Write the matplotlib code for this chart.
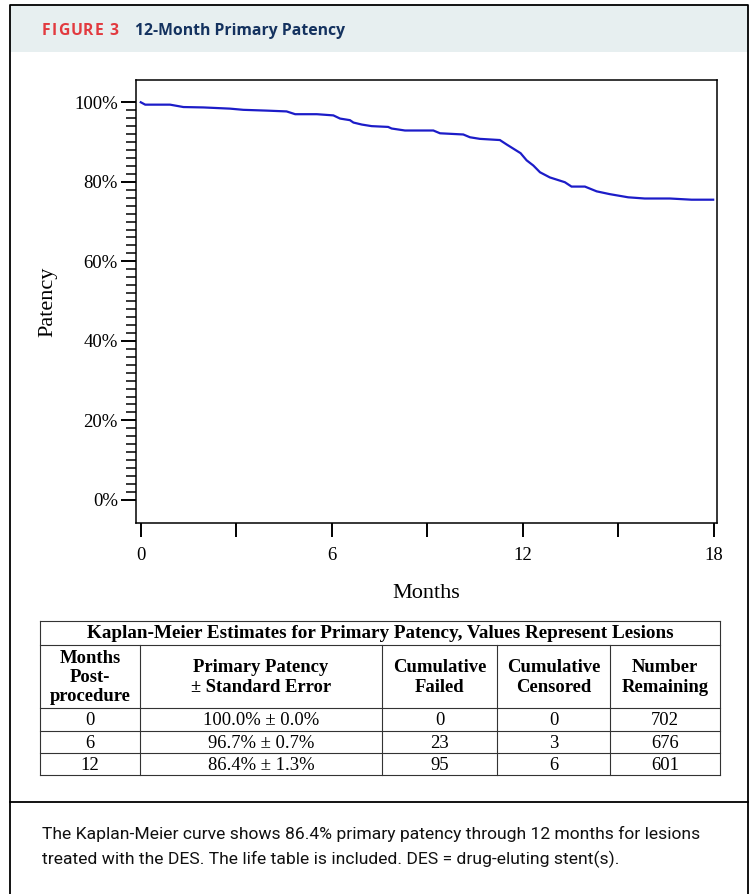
import matplotlib
matplotlib.use("Agg")
import matplotlib.pyplot as plt
from matplotlib.patches import Rectangle

# Kaplan-Meier curve (months, patency %)
months = [0.0, 0.14, 0.92, 1.34, 1.97, 2.8, 3.22, 3.96, 4.58, 4.85, 5.53, 6.05,
          6.26, 6.57, 6.68, 6.94, 7.25, 7.77, 7.88, 8.3, 9.19, 9.4, 10.13, 10.34,
          10.65, 11.28, 11.49, 11.75, 11.93, 12.12, 12.33, 12.54, 12.85, 13.32,
          13.53, 13.95, 14.32, 14.73, 15.31, 15.83, 16.62, 17.3, 17.98]
patency = [100.0, 99.4, 99.4, 98.8, 98.7, 98.4, 98.1, 97.9, 97.7, 97.0, 97.0, 96.7,
           95.9, 95.5, 94.9, 94.4, 94.0, 93.8, 93.4, 92.9, 92.9, 92.2, 91.9, 91.2,
           90.8, 90.5, 89.4, 88.1, 87.2, 85.4, 84.1, 82.4, 81.1, 79.9,
           78.8, 78.8, 77.6, 76.9, 76.1, 75.8, 75.8, 75.5, 75.5]

x_ticks = [0, 3, 6, 9, 12, 15, 18]
x_ticklabels = ["0", "", "6", "", "12", "", "18"]
y_ticks = [0, 20, 40, 60, 80, 100]
y_ticklabels = ["0%", "20%", "40%", "60%", "80%", "100%"]

# life table
table_title = "Kaplan-Meier Estimates for Primary Patency, Values Represent Lesions"
col_headers = ["Months\nPost-\nprocedure", "Primary Patency\n\u00b1 Standard Error",
               "Cumulative\nFailed", "Cumulative\nCensored", "Number\nRemaining"]
row_months = ["0", "6", "12"]
row_patency = ["100.0% \u00b1 0.0%", "96.7% \u00b1 0.7%", "86.4% \u00b1 1.3%"]
row_failed = ["0", "23", "95"]
row_censored = ["0", "3", "6"]
row_remaining = ["702", "676", "601"]

caption = ("The Kaplan-Meier curve shows 86.4% primary patency through 12 months for lesions\n"
           "treated with the DES. The life table is included. DES = drug-eluting stent(s).")

W, H = 756, 894
fig = plt.figure(figsize=(W / 100, H / 100), dpi=100)

# overlay axes in pixel coordinates for the frame, header and table
ov = fig.add_axes([0, 0, 1, 1])
ov.set_xlim(0, W)
ov.set_ylim(H, 0)
ov.axis("off")

ov.add_patch(Rectangle((10, 5), 738, 47, facecolor="#e7eff0", edgecolor="none"))
ov.plot([10, 10, 748, 748], [H + 5, 5, 5, H + 5], color="black", lw=1.3)
ov.plot([10, 748], [802, 802], color="black", lw=1.3)

# letter-spaced "FIGURE 3"
renderer = fig.canvas.get_renderer()
inv = ov.transData.inverted()
x = 42
for ch in "FIGURE 3":
    t = ov.text(x, 31, ch, color="#e23a3f", fontsize=11.3, fontweight="bold",
                family="Open Sans", va="center", ha="left")
    bb = t.get_window_extent(renderer)
    w = inv.transform((bb.x1, 0))[0] - inv.transform((bb.x0, 0))[0]
    if ch == " ":
        w = 4
    x += w + 1.0
ov.text(135, 31, "12-Month Primary Patency", color="#14325f", fontsize=11.3,
        fontweight="bold", family="Open Sans", va="center", ha="left")

ov.text(42, 847, caption, fontsize=12.6, family="Roboto", va="center", ha="left",
        linespacing=1.7, color="#111111")

# table grid
tx0, tx1 = 40, 720
col_edges = [40, 140, 382, 497, 610, 720]
row_edges = [621, 645, 708, 731, 753, 775]
lw_t = 0.8
for y in row_edges:
    ov.plot([tx0, tx1], [y, y], color="#333333", lw=lw_t)
ov.plot([tx0, tx0], [row_edges[0], row_edges[-1]], color="#333333", lw=lw_t)
ov.plot([tx1, tx1], [row_edges[0], row_edges[-1]], color="#333333", lw=lw_t)
for xe in col_edges[1:-1]:
    ov.plot([xe, xe], [row_edges[1], row_edges[-1]], color="#333333", lw=lw_t)

serif = "Liberation Serif"
ov.text((tx0 + tx1) / 2, (row_edges[0] + row_edges[1]) / 2 + 1, table_title,
        family=serif, fontweight="bold", fontsize=13.8, ha="center", va="center")
centers = [(col_edges[i] + col_edges[i + 1]) / 2 for i in range(5)]
for cx, hd in zip(centers, col_headers):
    ov.text(cx, (row_edges[1] + row_edges[2]) / 2 + 1, hd, family=serif,
            fontweight="bold", fontsize=13.4, ha="center", va="center", linespacing=1.17)
cols = [row_months, row_patency, row_failed, row_censored, row_remaining]
for r in range(3):
    cy = (row_edges[r + 2] + row_edges[r + 3]) / 2 + 1
    for cx, col in zip(centers, cols):
        ov.text(cx, cy, col[r], family=serif, fontsize=13.4, ha="center", va="center")

# Kaplan-Meier plot
ax = fig.add_axes([136 / W, 1 - 523 / H, (717 - 136) / W, (523 - 80) / H])
ax.plot(months, patency, color="#1c1cc8", lw=1.6, solid_joinstyle="miter")
ax.set_xlim(-0.15, 18.1)
ax.set_ylim(-5.8, 105.6)
ax.set_xticks(x_ticks)
ax.set_xticklabels(x_ticklabels)
ax.set_yticks(y_ticks)
ax.set_yticklabels(y_ticklabels)
ax.set_yticks(range(0, 101, 2), minor=True)
for s in ax.spines.values():
    s.set_linewidth(1.1)
ax.tick_params(axis="both", which="major", direction="out", width=1.4,
               labelsize=13.5, labelfontfamily=serif)
ax.tick_params(axis="y", which="major", length=11, pad=2)
ax.tick_params(axis="y", which="minor", length=7, width=1.1)
ax.tick_params(axis="x", which="major", length=10, pad=7)
ax.set_xlabel("Months", family=serif, fontsize=16, labelpad=15)
ax.set_ylabel("Patency", family=serif, fontsize=16, labelpad=12)

fig.savefig("out.png", dpi=100)
